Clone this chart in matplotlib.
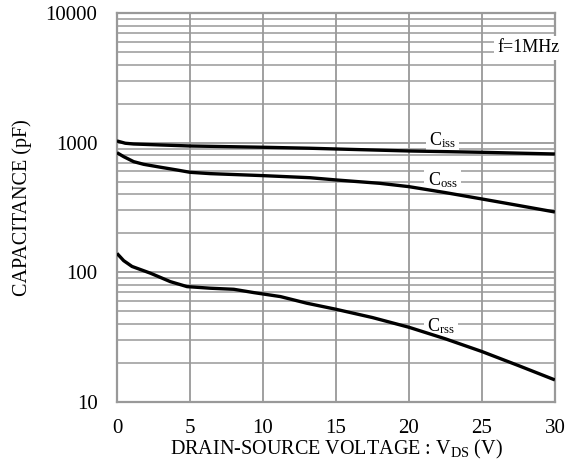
import numpy as np
import matplotlib.pyplot as plt
from matplotlib.ticker import LogLocator, NullFormatter

plt.rcParams['font.family'] = ['Liberation Serif', 'DejaVu Serif']
plt.rcParams['mathtext.default'] = 'regular'

# Capacitance vs drain-source voltage
vds_iss = [0, 0.57, 1.14, 3, 5, 10, 13.2, 15, 20, 25, 30]
ciss = [1031, 990, 977, 960, 943, 922, 906, 894, 863, 843, 818]

vds_oss = [0, 0.46, 1.14, 1.83, 3, 4.1, 5, 6.4, 10, 13.2, 15, 18, 20, 22.5, 25, 27.5, 30]
coss = [837, 780, 714, 681, 646, 616, 591, 577, 557, 537, 516, 486, 458, 412, 368, 328, 292]

vds_rss = [0, 0.46, 1.03, 2.3, 3.65, 4.8, 6.4, 8, 9.4, 11.2, 13, 15, 17.5, 20, 22.5, 25, 27.5, 30]
crss = [140, 123, 111, 98.4, 84.8, 77.6, 75.4, 74, 69.7, 65, 57.8, 51.9, 44.8, 37.7, 30.7, 24.5, 19.1, 14.8]

x_ticks = [0, 5, 10, 15, 20, 25, 30]
y_ticks = [10, 100, 1000, 10000]
y_ticklabels = ['10', '100', '1000', '10000']

fig = plt.figure(figsize=(5.8, 4.65), dpi=100)
ax = fig.add_axes([0.2017, 0.1355, 0.755, 0.8365])

for v, c in [(vds_iss, ciss), (vds_oss, coss), (vds_rss, crss)]:
    ax.plot(v, c, color='black', linewidth=2.4, zorder=5, solid_capstyle='butt')

ax.set_yscale('log')
ax.set_xlim(0, 30)
ax.set_ylim(10, 10000)
ax.set_xticks(x_ticks)
ax.set_yticks(y_ticks)
ax.set_yticklabels(y_ticklabels)
ax.yaxis.set_minor_locator(LogLocator(base=10, subs=np.arange(2, 10)))
ax.yaxis.set_minor_formatter(NullFormatter())
ax.tick_params(axis='both', which='both', length=0, labelsize=15)
ax.tick_params(axis='y', pad=14)
ax.tick_params(axis='x', pad=12)

ax.grid(True, which='major', color='#999999', linewidth=1.3, zorder=1)
ax.grid(True, which='minor', axis='y', color='#999999', linewidth=1.1, zorder=1)
for s in ax.spines.values():
    s.set_color('#999999')
    s.set_linewidth(1.6)

box = dict(facecolor='white', edgecolor='none', pad=2.5)
ax.text(22.3, 960, 'C$_{iss}$', fontsize=13, ha='center', va='baseline', bbox=box, zorder=4)
ax.text(22.3, 472, 'C$_{oss}$', fontsize=13, ha='center', va='baseline', bbox=box, zorder=4)
ax.text(22.2, 35.3, 'C$_{rss}$', fontsize=13, ha='center', va='baseline', bbox=box, zorder=4)
ax.text(28.2, 5400, 'f=1MHz', fontsize=13, ha='center', va='center', bbox=box, zorder=4)

ax.set_xlabel('DRAIN-SOURCE VOLTAGE : V$_{DS}$ (V)', fontsize=14.5, labelpad=0.5)
ax.set_ylabel('CAPACITANCE (pF)', fontsize=14.5, labelpad=10)

fig.savefig('out.png', dpi=100)
plt.close(fig)
